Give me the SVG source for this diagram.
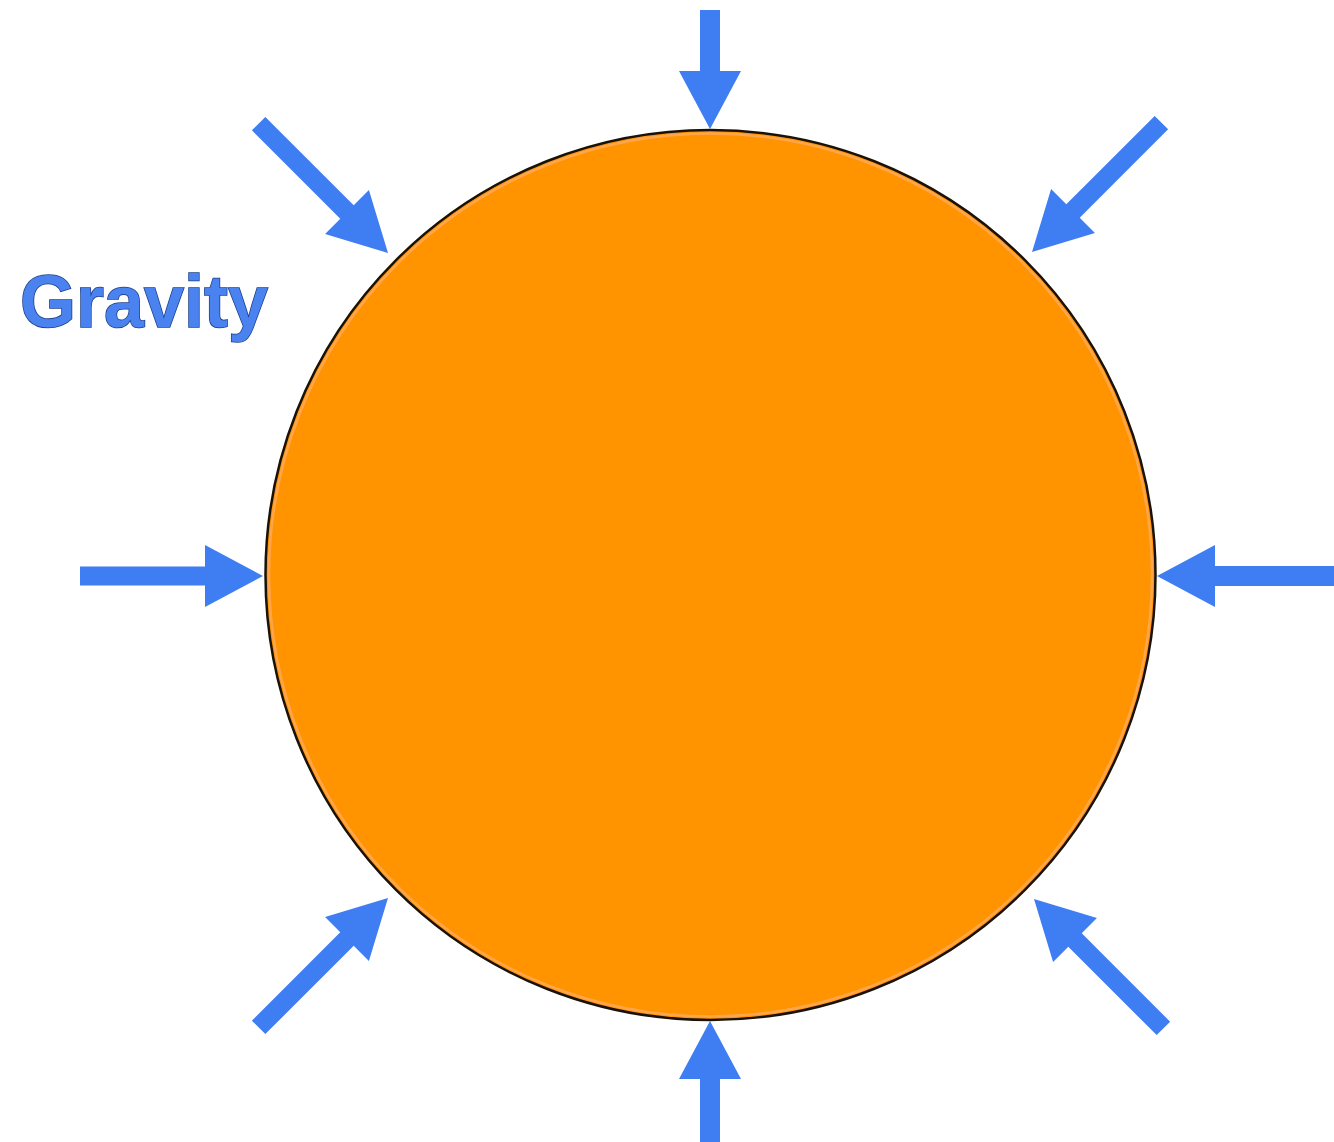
<svg xmlns="http://www.w3.org/2000/svg" width="1334" height="1142" viewBox="0 0 1334 1142">
<style>
.arrow{fill:#3f7df2}
.title{font-family:"Liberation Sans",Arial,sans-serif;font-weight:bold;font-size:75px;fill:#4a82f0;stroke:#1d3f8a;stroke-width:1.6px;paint-order:stroke}
</style>
<defs>
<path id="arr" d="M-183,-9.5 L-58,-9.5 L-58,-31 L0,0 L-58,31 L-58,9.5 L-183,9.5 Z"/>
<path id="arrTop" d="M-119,-10 L-58,-10 L-58,-31 L0,0 L-58,31 L-58,10 L-119,10 Z"/>
<path id="arrLong" d="M-190,-10 L-58,-10 L-58,-31 L0,0 L-58,31 L-58,10 L-190,10 Z"/>
</defs>
<rect width="1334" height="1142" fill="#ffffff"/>
<g id="sun">
<circle cx="710.5" cy="575" r="445" fill="#ff9400" stroke="#1a1208" stroke-width="2.5"/>
<circle cx="710.5" cy="575" r="441.5" fill="none" stroke="#ffa64d" stroke-width="2.5"/>
</g>
<g id="label">
<text class="title" x="20" y="327" textLength="248" lengthAdjust="spacingAndGlyphs">Gravity</text>
</g>
<g id="arrows" class="arrow">
<use href="#arrTop" transform="translate(710,129) rotate(90)"/>
<use href="#arrLong" transform="translate(710,1021) rotate(-90)"/>
<use href="#arr" transform="translate(263,576)"/>
<use href="#arrLong" transform="translate(1157,576) rotate(180)"/>
<use href="#arr" transform="translate(388,253) rotate(45)"/>
<use href="#arr" transform="translate(1032,252) rotate(135)"/>
<use href="#arr" transform="translate(388,898) rotate(-45)"/>
<use href="#arr" transform="translate(1034,899) rotate(-135)"/>
</g>
</svg>
